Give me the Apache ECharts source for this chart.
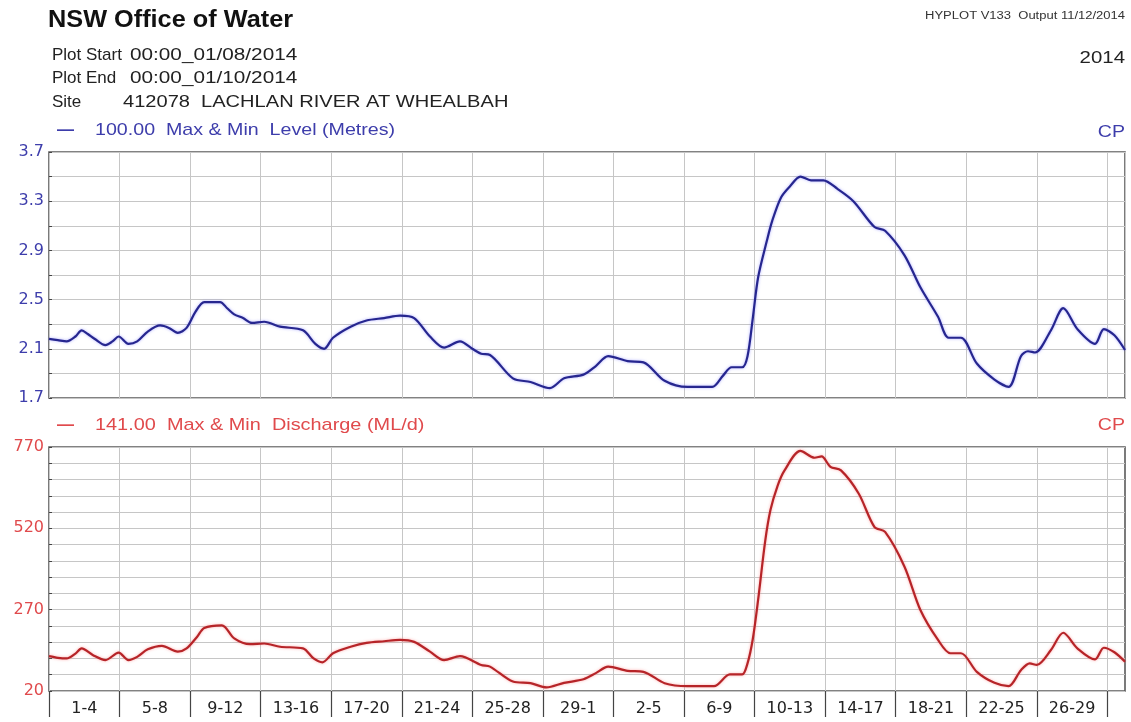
<!DOCTYPE html>
<html>
<head>
<meta charset="utf-8">
<script src="https://cdn.jsdelivr.net/npm/echarts@6/dist/echarts.min.js"></script>
<style>
html,body{margin:0;padding:0;background:#fff;}
#chart{width:1131px;height:722px;}
</style>
</head>
<body>
<div id="chart"></div>
<script>
// Day offsets from 00:00 01/08/2014
var levelDays = [0,0.5,1.0,1.5,1.85,2.2,2.6,3.2,3.6,3.95,4.5,5.0,5.6,6.3,6.8,7.3,7.8,8.3,8.8,9.7,10.1,10.5,11.0,11.5,12.2,13.1,14.4,15.1,15.6,16.1,17.1,18.0,19.0,19.9,20.7,21.6,22.4,23.3,24.0,24.5,25.0,26.3,27.3,28.4,29.2,30.3,31.0,31.7,32.8,33.7,34.9,36.2,37.6,38.2,38.7,39.3,39.6,39.9,40.2,40.7,41.0,41.5,42.0,42.6,43.2,43.9,44.7,45.6,46.8,47.4,48.5,49.4,50.4,51.0,51.7,52.6,53.6,54.4,55.1,55.5,55.9,56.8,57.5,58.3,59.3,59.8,60.4,61.0];
var levelValues = [2.18,2.17,2.16,2.20,2.25,2.22,2.18,2.13,2.16,2.20,2.14,2.16,2.24,2.29,2.27,2.23,2.27,2.40,2.48,2.48,2.43,2.38,2.35,2.31,2.32,2.28,2.25,2.14,2.10,2.19,2.28,2.33,2.35,2.37,2.35,2.20,2.11,2.16,2.10,2.06,2.05,1.86,1.83,1.78,1.86,1.89,1.96,2.04,2.00,1.99,1.84,1.79,1.79,1.88,1.95,1.95,2.04,2.35,2.68,2.98,3.14,3.33,3.42,3.50,3.47,3.47,3.40,3.30,3.09,3.06,2.86,2.60,2.36,2.19,2.19,1.98,1.85,1.79,2.04,2.08,2.07,2.25,2.43,2.26,2.14,2.26,2.21,2.09];

var dischargeDays = [0,0.5,1.0,1.5,1.85,2.5,3.2,3.95,4.5,5.0,5.6,6.4,7.3,7.8,8.4,8.8,9.8,10.5,11.4,12.2,13.1,14.4,15.0,15.5,16.1,17.1,18.0,19.0,19.9,20.7,21.6,22.4,23.3,24.5,25.0,26.3,27.3,28.2,29.2,30.3,31.0,31.7,32.8,33.7,34.9,36.2,37.7,38.6,39.3,39.6,39.9,40.2,40.6,40.9,41.3,41.7,42.6,43.4,43.8,44.3,44.9,45.9,46.8,47.4,48.5,49.4,50.4,51.1,51.7,52.6,53.6,54.4,55.1,55.6,56.0,56.8,57.5,58.3,59.3,59.8,60.4,61.0];
var dischargeValues = [127,122,120,135,151,130,115,138,115,125,148,159,141,151,187,214,222,182,164,166,156,151,120,108,136,156,168,173,177,171,141,115,127,100,95,49,44,31,45,56,75,95,82,79,44,35,35,71,71,105,180,300,480,576,650,698,758,737,741,709,698,627,524,509,402,269,177,136,136,79,45,35,84,105,100,146,199,151,117,153,139,110];

var periodLabels = ['1-4','5-8','9-12','13-16','17-20','21-24','25-28','29-1','2-5','6-9','10-13','14-17','18-21','22-25','26-29'];

var headerKeys = ['Plot Start', 'Plot End', 'Site'];
var headerValues = ['00:00_01/08/2014', '00:00_01/10/2014', '412078  LACHLAN RIVER AT WHEALBAH'];

function pairs(xs, ys){ return xs.map(function(d,i){ return [d, ys[i]]; }); }

var BLUE = '#3d3dab', BLUE_LINE = '#26268f', RED = '#e04a4c', RED_LINE = '#b62428';
var FONT = '"Liberation Sans", Arial, sans-serif';
var NUMFONT = '"DejaVu Sans", "Liberation Sans", sans-serif';

var chart = echarts.init(document.getElementById('chart'), null, {renderer:'canvas'});

var tickDays = [], labelDays = [];
for (var i = 0; i <= 15; i++) tickDays.push(i*4);
for (var j = 0; j < periodLabels.length; j++) labelDays.push(j*4+2);

function xAxisBase(gridIndex, showLabels){
  return {
    type:'value', gridIndex:gridIndex, min:0, max:61, interval:4,
    axisLine:{show:false},
    axisTick: showLabels ? {show:true, customValues:tickDays, length:26, lineStyle:{color:'#444', width:1.2}} : {show:false},
    axisLabel: showLabels ? {show:true, customValues:labelDays, color:'#222', fontSize:16, fontFamily:NUMFONT, margin:10,
      formatter:function(v){ return periodLabels[Math.round((v-2)/4)] || ''; }} : {show:false},
    splitLine:{show:true, lineStyle:{color:'#c6c6c6', width:1}}
  };
}

function txt(x, y, s, font, fill, sx, align){
  return {type:'text', x:x, y:y, scaleX:sx || 1, silent:true,
          style:{text:s, font:font, fill:fill, align:align || 'left', verticalAlign:'middle'}};
}

var textEls = [
  txt(48, 21, 'NSW Office of Water', 'bold 23px '+FONT, '#111', 1.1),
  txt(1125, 16, 'HYPLOT V133  Output 11/12/2014', '10px '+FONT, '#333', 1.3, 'right'),
  txt(1125, 58, '2014', '17px '+FONT, '#222', 1.2, 'right'),
  txt(57, 130, '—', 'bold 17px '+FONT, BLUE, 1),
  txt(95, 130, '100.00  Max & Min  Level (Metres)', '17px '+FONT, BLUE, 1.155),
  txt(1125, 132, 'CP', '17px '+FONT, BLUE, 1.15, 'right'),
  txt(57, 425, '—', 'bold 17px '+FONT, RED, 1),
  txt(95, 425, '141.00  Max & Min  Discharge (ML/d)', '17px '+FONT, RED, 1.17),
  txt(1125, 425, 'CP', '17px '+FONT, RED, 1.15, 'right')
];
var headerY = [55, 78, 102];
var valueX = [130, 130, 123];
var valueScale = [1.22, 1.22, 1.18];
headerKeys.forEach(function(k, n){
  textEls.push(txt(52, headerY[n], k, '17px '+FONT, '#222', 1));
  textEls.push(txt(valueX[n], headerY[n], headerValues[n], '17px '+FONT, '#222', valueScale[n]));
});

var option = {
  backgroundColor:'#fff',
  animation:false,
  graphic: textEls,
  grid:[
    {left:49, right:6, top:152, height:246, show:true, borderColor:'#5a5a5a', borderWidth:1.6, backgroundColor:'transparent'},
    {left:49, right:6, top:447, height:244, show:true, borderColor:'#5a5a5a', borderWidth:1.6, backgroundColor:'transparent'}
  ],
  xAxis:[ xAxisBase(0,false), xAxisBase(1,true) ],
  yAxis:[
    {type:'value', gridIndex:0, min:1.7, max:3.7, interval:0.4,
     axisLine:{show:false},
     axisTick:{show:true, inside:true, length:3, lineStyle:{color:'#444'}},
     minorTick:{show:true, splitNumber:2, length:3, lineStyle:{color:'#444'}},
     axisLabel:{color:BLUE, fontSize:16, fontFamily:NUMFONT, margin:5, formatter:function(v){return v.toFixed(1);}},
     splitLine:{show:true, lineStyle:{color:'#c6c6c6'}},
     minorSplitLine:{show:true, lineStyle:{color:'#c6c6c6'}}},
    {type:'value', gridIndex:1, min:20, max:770, interval:250,
     axisLine:{show:false},
     axisTick:{show:true, inside:true, length:3, lineStyle:{color:'#444'}},
     minorTick:{show:true, splitNumber:5, length:3, lineStyle:{color:'#444'}},
     axisLabel:{color:RED, fontSize:16, fontFamily:NUMFONT, margin:5},
     splitLine:{show:true, lineStyle:{color:'#c6c6c6'}},
     minorSplitLine:{show:true, lineStyle:{color:'#c6c6c6'}}}
  ],
  series:[
    {type:'line', xAxisIndex:0, yAxisIndex:0, data:pairs(levelDays, levelValues), showSymbol:false, smooth:0.3,
     lineStyle:{color:BLUE_LINE, width:2.2, shadowColor:'rgba(120,120,255,0.6)', shadowBlur:3}},
    {type:'line', xAxisIndex:1, yAxisIndex:1, data:pairs(dischargeDays, dischargeValues), showSymbol:false, smooth:0.3,
     lineStyle:{color:RED_LINE, width:2.2, shadowColor:'rgba(255,120,120,0.6)', shadowBlur:3}}
  ]
};
chart.setOption(option);
</script>
</body>
</html>
